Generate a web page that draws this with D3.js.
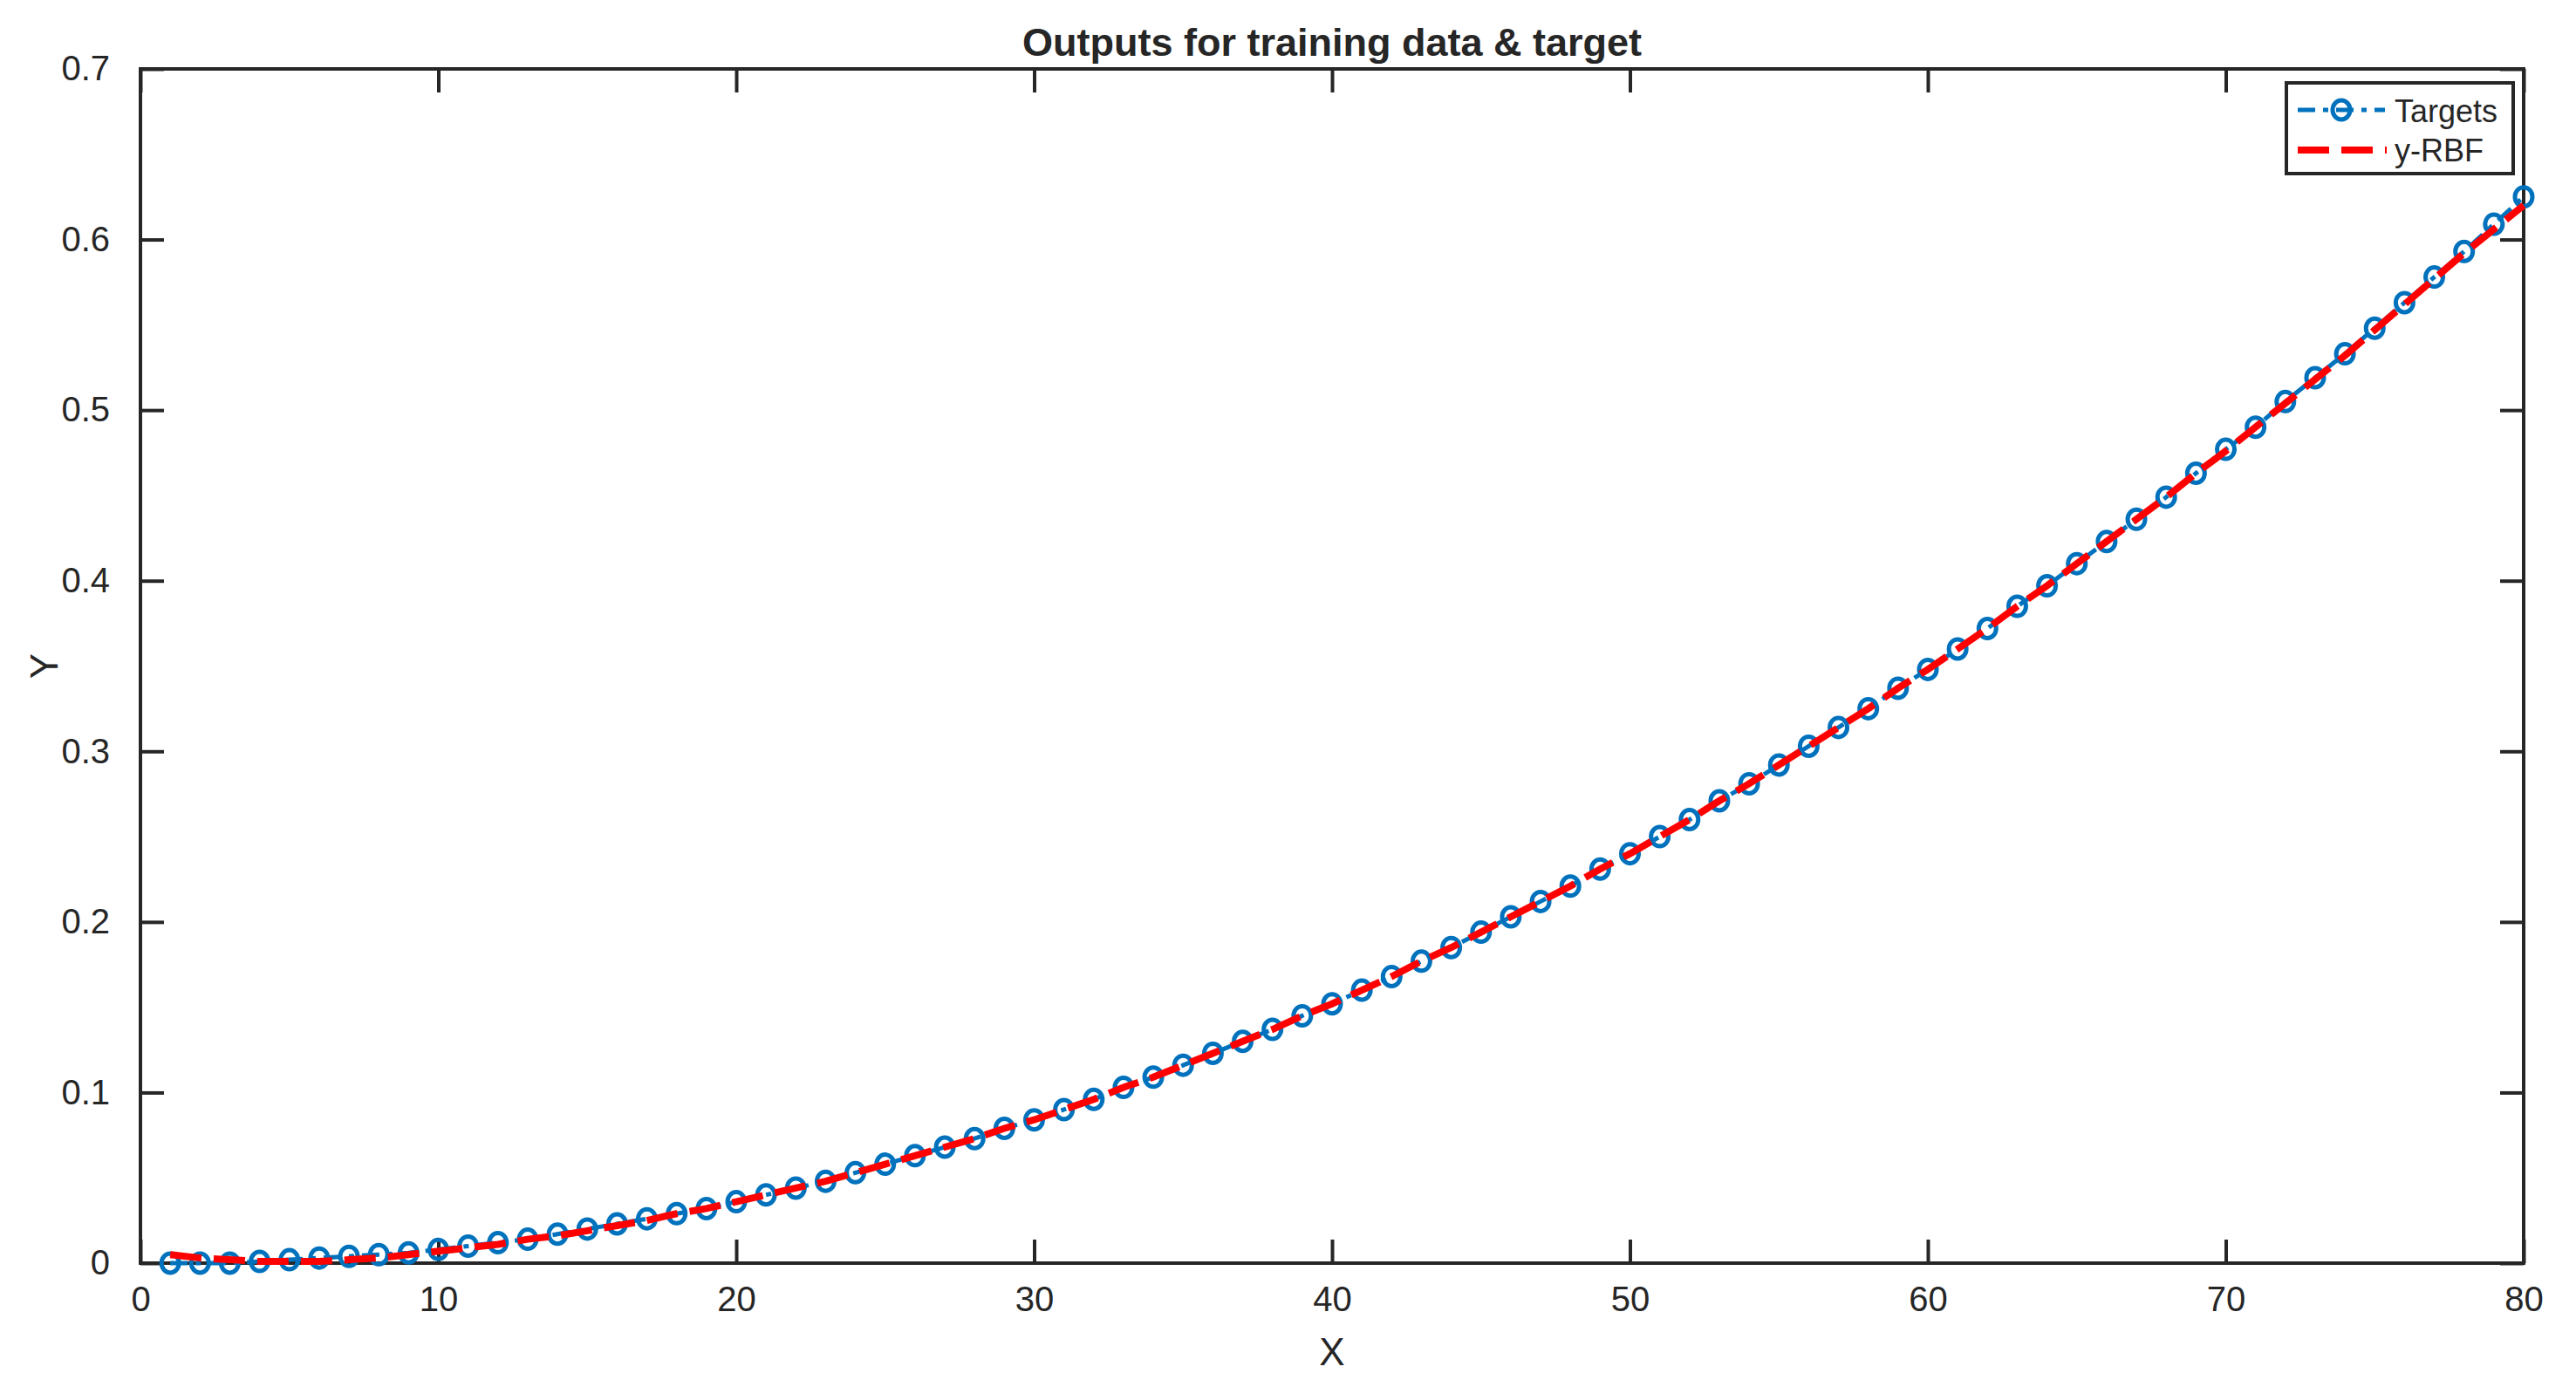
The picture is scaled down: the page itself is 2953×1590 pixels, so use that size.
<!DOCTYPE html>
<html>
<head>
<meta charset="utf-8">
<script src="https://cdn.jsdelivr.net/npm/d3@7"></script>
<style>
  body { margin: 0; background: #fff; }
  text { font-family: Arial, "Liberation Sans", sans-serif; fill: #262626; }
</style>
</head>
<body>
<div id="chart"></div>
<script>
// data
var xs = d3.range(1, 81);
var targets = [0.000,0.000,0.000,0.001,0.002,0.003,0.004,0.005,0.006,0.008,
    0.010,0.012,0.014,0.017,0.020,0.023,0.026,0.029,0.032,0.036,
    0.040,0.044,0.048,0.053,0.058,0.063,0.068,0.073,0.079,0.084,
    0.090,0.096,0.103,0.109,0.116,0.123,0.130,0.137,0.145,0.152,
    0.160,0.168,0.177,0.185,0.194,0.203,0.212,0.221,0.231,0.240,
    0.250,0.260,0.271,0.281,0.292,0.303,0.314,0.325,0.337,0.348,
    0.360,0.372,0.385,0.397,0.410,0.423,0.436,0.449,0.463,0.477,
    0.490,0.505,0.519,0.533,0.548,0.563,0.578,0.593,0.609,0.625];
var yRBF = [0.005,0.003,0.002,0.001,0.001,0.001,0.002,0.003,0.005,0.007,
    0.009,0.011,0.014,0.016,0.019,0.022,0.025,0.029,0.032,0.036,
    0.040,0.044,0.048,0.053,0.058,0.063,0.068,0.073,0.079,0.084,
    0.090,0.096,0.103,0.109,0.116,0.123,0.130,0.137,0.145,0.152,
    0.160,0.168,0.177,0.185,0.194,0.203,0.212,0.221,0.231,0.240,
    0.250,0.260,0.271,0.281,0.292,0.303,0.314,0.325,0.337,0.348,
    0.360,0.372,0.385,0.397,0.410,0.423,0.436,0.449,0.463,0.476,
    0.490,0.504,0.518,0.532,0.547,0.562,0.577,0.592,0.606,0.620];
var xTicks = [0,10,20,30,40,50,60,70,80];
var yTicks = [0,0.1,0.2,0.3,0.4,0.5,0.6,0.7];

var W = 2953, H = 1590;
var margin = { top: 79, right: 60, bottom: 142, left: 161 },
    width = W - margin.left - margin.right,
    height = H - margin.top - margin.bottom;

var svg = d3.select("#chart").append("svg")
    .attr("width", W).attr("height", H);
var g = svg.append("g")
    .attr("transform", "translate(" + margin.left + "," + margin.top + ")");

var x = d3.scaleLinear().domain([0, 80]).range([0, width]);
var y = d3.scaleLinear().domain([0, 0.7]).range([height, 0]);

var axisCol = "#262626", tl = 27;

// ticks on all four sides, pointing inward
function styleAxis(sel) {
    sel.select(".domain").remove();
    sel.selectAll("line").attr("stroke", axisCol).attr("stroke-width", 4);
    sel.selectAll("text").style("font-size", "40px").attr("fill", axisCol);
}
g.append("g").attr("transform", "translate(0," + height + ")")
    .call(d3.axisBottom(x).tickValues(xTicks).tickSize(-tl).tickPadding(27).tickFormat(d3.format("d")))
    .call(styleAxis);
g.append("g")
    .call(d3.axisTop(x).tickValues(xTicks).tickSize(-tl).tickFormat(""))
    .call(styleAxis);
g.append("g")
    .call(d3.axisLeft(y).tickValues(yTicks).tickSize(-tl).tickPadding(35).tickFormat(function (d) { return d === 0 ? "0" : d3.format(".1f")(d); }))
    .call(styleAxis);
g.append("g").attr("transform", "translate(" + width + ",0)")
    .call(d3.axisRight(y).tickValues(yTicks).tickSize(-tl).tickFormat(""))
    .call(styleAxis);

// box
g.append("rect").attr("width", width).attr("height", height)
    .attr("fill", "none").attr("stroke", axisCol).attr("stroke-width", 4);

var blue = "#0072BD", red = "#FF0000";

var line = d3.line().x(function (d) { return x(d[0]); }).y(function (d) { return y(d[1]); });

// targets: dash-dot line with circles
g.append("path")
    .datum(xs.map(function (v, i) { return [v, targets[i]]; }))
    .attr("d", line).attr("fill", "none").attr("stroke", blue)
    .attr("stroke-width", 5).attr("stroke-dasharray", "20,9,6,9");
g.selectAll(".pt").data(xs).enter().append("ellipse")
    .attr("class", "pt")
    .attr("cx", function (d) { return x(d); })
    .attr("cy", function (d, i) { return y(targets[i]); })
    .attr("rx", 10).attr("ry", 11)
    .attr("fill", "none").attr("stroke", blue).attr("stroke-width", 5);

// RBF output: thick red dashes
g.append("path")
    .datum(xs.map(function (v, i) { return [v, yRBF[i]]; }))
    .attr("d", line).attr("fill", "none").attr("stroke", red)
    .attr("stroke-width", 8).attr("stroke-dasharray", "36,14");

// title and axis labels
svg.append("text").attr("x", margin.left + width / 2).attr("y", 64)
    .attr("text-anchor", "middle").style("font-size", "45px").style("font-weight", "bold")
    .attr("fill", "#000").text("Outputs for training data & target");
svg.append("text").attr("x", margin.left + width / 2).attr("y", 1565)
    .attr("text-anchor", "middle").style("font-size", "44px").text("X");
svg.append("text").attr("transform", "translate(66," + (margin.top + height / 2) + ") rotate(-90)")
    .attr("text-anchor", "middle").style("font-size", "44px").text("Y");

// legend
var lg = svg.append("g").attr("transform", "translate(2621,95)");
lg.append("rect").attr("width", 260).attr("height", 104)
    .attr("fill", "#fff").attr("stroke", axisCol).attr("stroke-width", 4);
lg.append("line").attr("x1", 13).attr("x2", 113).attr("y1", 31).attr("y2", 31)
    .attr("stroke", blue).attr("stroke-width", 5).attr("stroke-dasharray", "20,9,6,9");
lg.append("ellipse").attr("cx", 63).attr("cy", 31).attr("rx", 10).attr("ry", 11)
    .attr("fill", "none").attr("stroke", blue).attr("stroke-width", 5);
lg.append("line").attr("x1", 13).attr("x2", 115).attr("y1", 77).attr("y2", 77)
    .attr("stroke", red).attr("stroke-width", 8).attr("stroke-dasharray", "36,14");
lg.append("text").attr("x", 124).attr("y", 45).style("font-size", "36px").attr("fill", "#000").text("Targets");
lg.append("text").attr("x", 124).attr("y", 90).style("font-size", "36px").attr("fill", "#000").text("y-RBF");
</script>
</body>
</html>
